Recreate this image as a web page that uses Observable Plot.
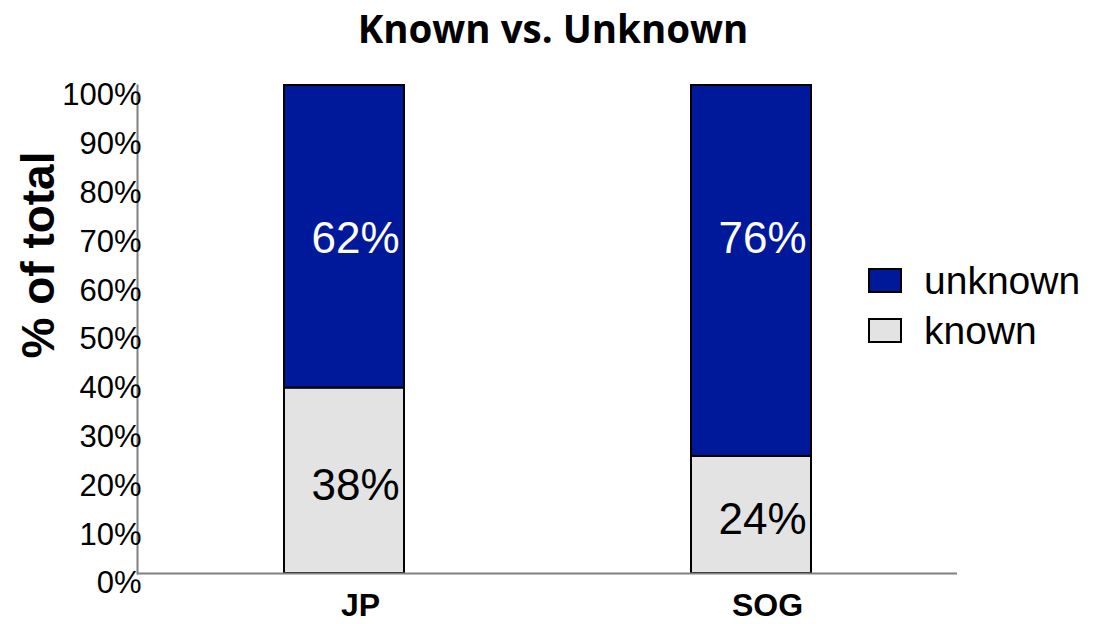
<!DOCTYPE html>
<html>
<head>
<meta charset="utf-8">
<script src="https://cdn.jsdelivr.net/npm/d3@7"></script>
<script src="https://cdn.jsdelivr.net/npm/@observablehq/plot@0.6"></script>
<style>
  body { margin: 0; background: #fff; }
  #wrap { position: relative; width: 1101px; height: 624px; overflow: hidden; font-family: "Liberation Sans", Arial, sans-serif; }
  #title { position: absolute; left: 553px; top: 9px; transform: translateX(-50%); font-family: "Open Sans", sans-serif; font-weight: 700; font-size: 38.5px; line-height: 1; white-space: nowrap; color: #000; }
  #ylabel { position: absolute; left: 38px; top: 255px; transform: translate(-50%, -50%) rotate(-90deg); font-weight: 700; font-size: 46px; line-height: 1; white-space: nowrap; color: #000; }
  #legend { position: absolute; left: 868px; top: 255px; }
  .item { display: flex; align-items: center; height: 50px; }
  .sw { width: 30px; height: 21px; border: 2px solid #000; margin-right: 22px; }
  .lab { font-size: 39px; line-height: 1; }
  #plot { position: absolute; left: 0; top: 0; }
</style>
</head>
<body>
<div id="wrap">
  <div id="plot"></div>
  <div id="title">Known vs. Unknown</div>
  <div id="ylabel">% of total</div>
  <div id="legend"></div>
</div>
<script>
const groups = ["JP", "SOG"];
const knownValues = [38, 24];
const unknownValues = [62, 76];
const categories = ["known", "unknown"];
const legendOrder = ["unknown", "known"];
const colors = ["#e3e3e3", "#00189a"];
const yTicks = [0, 10, 20, 30, 40, 50, 60, 70, 80, 90, 100];

const rows = [];
groups.forEach((g, i) => {
  rows.push({group: g, category: "known", value: knownValues[i]});
  rows.push({group: g, category: "unknown", value: unknownValues[i]});
});
const knownRows = rows.filter(d => d.category === "known");
const unknownRows = rows.filter(d => d.category === "unknown");
// unknown labels sit at a common height: the middle of the shortest unknown segment
const unknownLabelY = (100 + d3.max(knownValues)) / 2;

const font = "Liberation Sans, Arial, sans-serif";

const chart = Plot.plot({
  width: 1101,
  height: 624,
  marginTop: 85,
  marginBottom: 51,
  marginLeft: 137,
  marginRight: 144,
  style: {fontFamily: font, background: "white", overflow: "visible", color: "#000"},
  x: {domain: groups, paddingInner: 0.706, paddingOuter: 0.358, axis: null},
  y: {domain: [0, 100], axis: null},
  color: {domain: categories, range: colors},
  marks: [
    Plot.barY(rows, Plot.stackY({x: "group", y: "value", fill: "category", stroke: "#000", strokeWidth: 2})),
    Plot.text(knownRows, {
      x: "group", y: d => d.value / 2,
      text: d => d.value + "%",
      fill: "#000", fontSize: 44, dx: 11, dy: 5
    }),
    Plot.text(unknownRows, {
      x: "group", y: () => unknownLabelY,
      text: d => d.value + "%",
      fill: "#fff", fontSize: 44, dx: 11, dy: 2
    }),
    Plot.ruleY([0], {stroke: "#808080", strokeWidth: 2}),
    Plot.frame({anchor: "left", stroke: "#808080", strokeWidth: 2}),
    Plot.axisY({ticks: yTicks, tickFormat: d => d + "%", tickSize: 0, tickPadding: -4, fontSize: 31, dy: 10, label: null}),
    Plot.axisX({tickSize: 0, tickPadding: 20, fontSize: 32, fontWeight: "bold", dx: 16, label: null})
  ]
});
document.getElementById("plot").appendChild(chart);

const legend = document.getElementById("legend");
legendOrder.forEach(c => {
  const item = document.createElement("div");
  item.className = "item";
  const sw = document.createElement("div");
  sw.className = "sw";
  sw.style.background = colors[categories.indexOf(c)];
  const lab = document.createElement("div");
  lab.className = "lab";
  lab.textContent = c;
  item.appendChild(sw);
  item.appendChild(lab);
  legend.appendChild(item);
});
</script>
</body>
</html>
